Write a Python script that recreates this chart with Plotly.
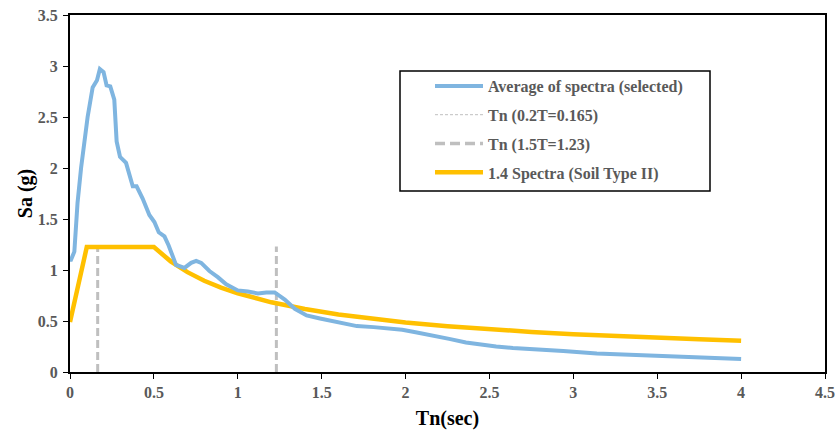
import plotly.graph_objects as go

# ---- data ----
avg_T = [0, 0.006, 0.026, 0.045, 0.066, 0.080, 0.105, 0.135, 0.161, 0.178, 0.200, 0.218, 0.240,
         0.264, 0.278, 0.298, 0.334, 0.374, 0.397, 0.433, 0.473, 0.503, 0.529, 0.563, 0.588,
         0.632, 0.682, 0.722, 0.752, 0.782, 0.831, 0.881, 0.931, 1.00, 1.06, 1.12, 1.17, 1.22,
         1.28, 1.34, 1.41, 1.49, 1.55, 1.63, 1.71, 1.81, 1.89, 1.98, 2.06, 2.16, 2.26, 2.36,
         2.46, 2.54, 2.64, 2.78, 2.94, 3.14, 3.34, 3.50, 3.64, 3.80, 4.00]
avg_Sa = [1.10, 1.10, 1.18, 1.66, 2.00, 2.20, 2.50, 2.79, 2.86, 2.97, 2.94, 2.81, 2.80,
          2.67, 2.26, 2.11, 2.05, 1.82, 1.82, 1.70, 1.54, 1.47, 1.37, 1.33, 1.24,
          1.05, 1.02, 1.07, 1.09, 1.07, 0.99, 0.93, 0.86, 0.80, 0.79, 0.77, 0.78, 0.78,
          0.71, 0.62, 0.555, 0.525, 0.505, 0.475, 0.45, 0.44, 0.43, 0.415, 0.39, 0.36, 0.325, 0.29,
          0.265, 0.25, 0.235, 0.225, 0.205, 0.182, 0.168, 0.16, 0.147, 0.135, 0.128]

code_T = [0, 0.05, 0.1, 0.5, 0.6, 0.7, 0.8, 0.9, 1.0, 1.2, 1.4, 1.6, 1.8, 2.0, 2.25, 2.5,
          2.75, 3.0, 3.25, 3.5, 3.75, 4.0]
code_Sa = [0.49, 0.84, 1.225, 1.225, 1.085, 0.979, 0.895, 0.828, 0.772, 0.683, 0.617, 0.564,
           0.522, 0.486, 0.449, 0.419, 0.393, 0.371, 0.352, 0.335, 0.320, 0.306]

tn1_T = [0.165, 0.165]
tn1_Sa = [0, 1.23]
tn2_T = [1.23, 1.23]
tn2_Sa = [0, 1.23]

x_ticks = [0, 0.5, 1, 1.5, 2, 2.5, 3, 3.5, 4, 4.5]
y_ticks = [0, 0.5, 1, 1.5, 2, 2.5, 3, 3.5]

names = ["Average of spectra (selected)", "Tn (0.2T=0.165)", "Tn (1.5T=1.23)",
         "1.4 Spectra (Soil Type II)"]

BLUE = "#7FB5E0"
YELLOW = "#FFC000"
GREY = "#BFBFBF"
SERIF = "Liberation Serif, Times New Roman, serif"

fig = go.Figure()

# plotted marks (no legend)
fig.add_trace(go.Scatter(x=tn1_T, y=tn1_Sa, mode="lines", showlegend=False,
                         line=dict(color=GREY, width=3, dash="8px,4px")))
fig.add_trace(go.Scatter(x=tn2_T, y=tn2_Sa, mode="lines", showlegend=False,
                         line=dict(color=GREY, width=3, dash="8px,4px")))
fig.add_trace(go.Scatter(x=code_T, y=code_Sa, mode="lines", showlegend=False,
                         line=dict(color=YELLOW, width=4.5)))
fig.add_trace(go.Scatter(x=avg_T, y=avg_Sa, mode="lines", showlegend=False,
                         line=dict(color=BLUE, width=4)))

# legend entries
leg_styles = [dict(color=BLUE, width=4), dict(color=GREY, width=1, dash="3px,2px"),
              dict(color=GREY, width=3.5, dash="10px,5px"), dict(color=YELLOW, width=4.5)]
for i, (nm, st) in enumerate(zip(names, leg_styles)):
    fig.add_trace(go.Scatter(x=[None], y=[None], mode="lines", name=nm, line=st,
                             legendgroup=f"g{i}"))

# legend border box
fig.add_shape(type="rect", xref="paper", yref="paper",
              x0=(400 - 70) / 755, x1=(710 - 70) / 755,
              y0=(372 - 191) / 357, y1=(372 - 71) / 357,
              line=dict(color="#000000", width=1.5), fillcolor="rgba(0,0,0,0)")

axis_common = dict(showgrid=False, zeroline=False, showline=True, linecolor="#000000",
                   linewidth=2, mirror=True, ticks="outside", ticklen=5, tickwidth=1,
                   tickcolor="#000000", automargin=False,
                   tickfont=dict(family=SERIF, size=16, color="#595959", weight="bold"))

fig.update_xaxes(range=[0, 4.5], tickvals=x_ticks, ticktext=[str(v) for v in x_ticks],
                 ticklabelstandoff=0,
                 title=dict(text="<b>Tn(sec)</b>", font=dict(family=SERIF, size=20, color="#000000"),
                            standoff=14),
                 **axis_common)
fig.update_yaxes(range=[0, 3.5], tickvals=y_ticks, ticktext=[str(v) for v in y_ticks],
                 ticklabelstandoff=2,
                 title=dict(text="<b>Sa (g)</b>", font=dict(family=SERIF, size=20, color="#000000"),
                            standoff=0),
                 **axis_common)

fig.update_layout(
    width=835, height=430,
    margin=dict(l=70, r=10, t=15, b=58),
    paper_bgcolor="#FFFFFF", plot_bgcolor="#FFFFFF",
    legend=dict(x=(430 - 70) / 755, y=(372 - 69) / 357, xanchor="left", yanchor="top",
                bgcolor="rgba(0,0,0,0)", borderwidth=0, tracegroupgap=5, itemwidth=48,
                traceorder="grouped",
                font=dict(family=SERIF, size=16, color="#595959", weight="bold")),
    showlegend=True,
)

fig.write_html("out.html")
